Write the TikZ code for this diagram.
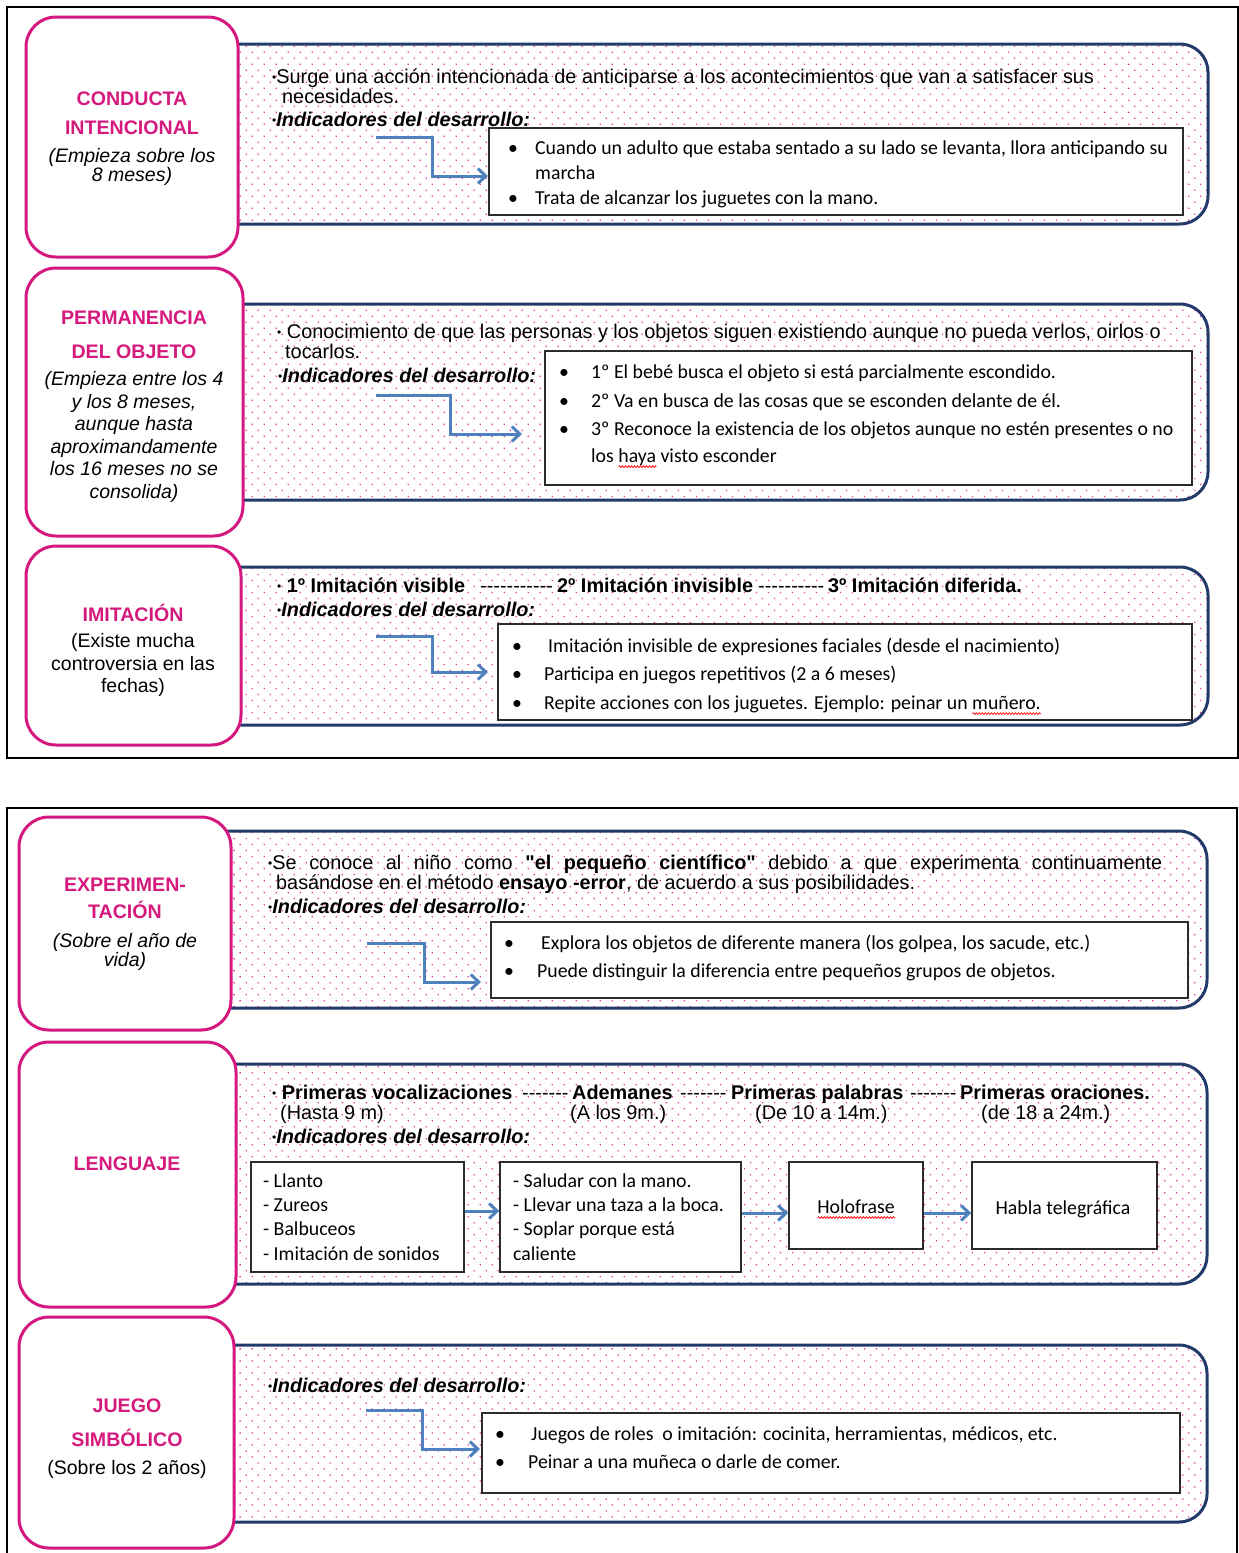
\documentclass[tikz,border=0pt]{standalone}
\usepackage{fontspec}
\setmainfont{Liberation Sans}[Ligatures=TeXOff]
\newfontfamily\calf{Carlito}[Ligatures=TeXOff]
\usetikzlibrary{patterns.meta,arrows.meta,decorations.pathmorphing}

\definecolor{titlepink}{HTML}{D5197D}
\definecolor{edgepink}{HTML}{D4187F}
\definecolor{dotpink}{HTML}{E2399A}
\definecolor{navy}{HTML}{213A69}
\definecolor{flowblue}{HTML}{4F81BD}
\definecolor{boxedge}{HTML}{2B2B2B}

\newcommand\panelfont{\fontsize{19.85pt}{20pt}\selectfont}
\newcommand\listfont{\calf\fontsize{19.8pt}{25pt}\selectfont}
\newcommand\dotb{\raisebox{1.5pt}{\fontsize{12pt}{12pt}\selectfont\textbullet}}
\newcommand\listb[1][27pt]{\makebox[#1][l]{\textbullet}}
\newcommand\ind{\dotb\textbf{\textit{Indicadores del desarrollo:}}}
% red wavy underline of a word flagged by the spell checker
\newsavebox\spellbox
\newcommand\spellmark[1]{\sbox\spellbox{#1}\rlap{\raisebox{-4.5pt}{\tikz[x=1pt,y=1pt,baseline=0pt]
  \draw[red, line width=0.7pt, decoration={zigzag, segment length=3pt, amplitude=0.9pt}, decorate]
  (0,0) -- (\the\wd\spellbox,0);}}#1}

\begin{document}
\begin{tikzpicture}[x=1pt, y=-1pt,
  frame/.style={draw=black, line width=1.8pt},
  pinkbox/.style={draw=edgepink, line width=3pt, rounded corners=30pt, fill=white, inner sep=0pt},
  panel/.style={draw=navy, line width=3pt, rounded corners=28pt,
    pattern={Dots[distance=8.49pt, angle=45, radius=0.9pt]}, pattern color=dotpink, inner sep=0pt},
  listbox/.style={draw=boxedge, line width=1.4pt, fill=white, inner sep=0pt},
  ptext/.style={anchor=mid west, inner sep=0pt, yshift=-4.5pt, font=\panelfont},
  ltext/.style={anchor=mid west, inner sep=0pt, yshift=-4.5pt, font=\listfont},
  ctext/.style={inner sep=0pt, yshift=-3pt, font=\listfont},
  head/.style={align=center, inner sep=0pt, text=titlepink,
    font=\bfseries\fontsize{19.6pt}{29pt}\selectfont},
  note/.style={align=center, inner sep=0pt, font=\fontsize{19.5pt}{19pt}\selectfont},
  flow/.style={draw=flowblue, line width=3pt,
    -{Straight Barb[length=8pt, width=15pt]}}
]
\useasboundingbox (0,0) rectangle (1239,1553);

% ---------- outer frames ----------
\node[frame, minimum width=1231pt, minimum height=751pt, inner sep=0pt] (fr1) at (622.5,382.5) {};
\node[frame, minimum width=1230pt, minimum height=752pt, inner sep=0pt] (fr2) at (622,1184) {};

% ---------- 1: conducta intencional ----------
\node[panel, minimum width=1008pt, minimum height=180pt] (p1) at (704,134) {};
\node[pinkbox, minimum width=212pt, minimum height=240pt] (k1) at (132,137) {};
\node[head] (h1) at (132,113) {CONDUCTA\\INTENCIONAL};
\node[note, font=\itshape\fontsize{19.5pt}{19pt}\selectfont] (n1) at (132,167) {(Empieza sobre los\\8 meses)};
\node[ptext] (s1a) at (272,76) {\dotb Surge una acción intencionada de anticiparse a los acontecimientos que van a satisfacer sus};
\node[ptext] (s1b) at (282,96) {necesidades.};
\node[ptext] (s1c) at (272,119) {\ind};
\node[listbox, minimum width=694pt, minimum height=87pt] (b1) at (836,171.5) {};
\node[ltext] (s1d) at (508,147) {\listb Cuando un adulto que estaba sentado a su lado se levanta, llora anticipando su};
\node[ltext] (s1e) at (535,172) {marcha};
\node[ltext] (s1f) at (508,197) {\listb Trata de alcanzar los juguetes con la mano.};
\coordinate (a1s) at (376,137);
\coordinate (a1e) at (488,176);
\draw[flow] (a1s) -- (432,137) |- (a1e);

% ---------- 2: permanencia del objeto ----------
\node[panel, minimum width=1008pt, minimum height=196pt] (p2) at (704,402) {};
\node[pinkbox, minimum width=217pt, minimum height=268pt] (k2) at (134.5,402) {};
\node[head, font=\bfseries\fontsize{19.6pt}{34pt}\selectfont] (h2) at (134,335) {PERMANENCIA\\DEL OBJETO};
\node[note, font=\itshape\fontsize{19.5pt}{22.6pt}\selectfont] (n2) at (134,437)
  {(Empieza entre los 4\\y los 8 meses,\\aunque hasta\\aproximandamente\\los 16 meses no se\\consolida)};
\node[ptext] (s2a) at (277,331) {\dotb\ Conocimiento de que las personas y los objetos siguen existiendo aunque no pueda verlos, oirlos o};
\node[ptext] (s2b) at (285,351) {tocarlos.};
\node[ptext] (s2c) at (278,375) {\ind};
\node[listbox, minimum width=647pt, minimum height=134pt] (b2) at (868.5,418) {};
\node[ltext] (s2d) at (559,371) {\listb[32pt]1º El bebé busca el objeto si está parcialmente escondido.};
\node[ltext] (s2e) at (559,400) {\listb[32pt]2º Va en busca de las cosas que se esconden delante de él.};
\node[ltext] (s2f) at (559,428) {\listb[32pt]3º Reconoce la existencia de los objetos aunque no estén presentes o no};
\node[ltext] (s2g) at (591,455) {los \spellmark{haya} visto esconder};
\coordinate (a2s) at (376,395);
\coordinate (a2e) at (522,434);
\draw[flow] (a2s) -- (450,395) |- (a2e);

% ---------- 3: imitación ----------
\node[panel, minimum width=1008pt, minimum height=158pt] (p3) at (704,646) {};
\node[pinkbox, minimum width=215pt, minimum height=199pt] (k3) at (133.5,645.5) {};
\node[head] (h3) at (133,613) {IMITACIÓN};
\node[note, font=\fontsize{19.5pt}{22.5pt}\selectfont] (n3) at (133,665) {(Existe mucha\\controversia en las\\fechas)};
\node[ptext] (s3a) at (277,585) {\dotb\ \textbf{1º Imitación visible}};
\node[ptext] (s3b) at (480,585) {-----------};
\node[ptext] (s3c) at (557,585) {\textbf{2º Imitación invisible}};
\node[ptext] (s3d) at (758,585) {----------};
\node[ptext] (s3e) at (828,585) {\textbf{3º Imitación diferida.}};
\node[ptext] (s3f) at (277,609) {\ind};
\node[listbox, minimum width=694pt, minimum height=96pt] (b3) at (845,672) {};
\node[ltext] (s3g) at (512,645) {\listb[36pt]Imitación invisible de expresiones faciales (desde el nacimiento)};
\node[ltext] (s3h) at (512,673) {\listb[32pt]Participa en juegos repetitivos (2 a 6 meses)};
\node[ltext] (s3i) at (512,702) {\listb[32pt]Repite acciones con los juguetes. Ejemplo: peinar un \spellmark{muñero.}};
\coordinate (a3s) at (376,636);
\coordinate (a3e) at (488,672);
\draw[flow] (a3s) -- (432,636) |- (a3e);

% ---------- 4: experimentación ----------
\node[panel, minimum width=1014pt, minimum height=177pt] (p4) at (700,919.5) {};
\node[pinkbox, minimum width=212pt, minimum height=213pt] (k4) at (125,923.5) {};
\node[head, font=\bfseries\fontsize{19.6pt}{27pt}\selectfont] (h4) at (125,898) {EXPERIMEN-\\TACIÓN};
\node[note, font=\itshape\fontsize{19.5pt}{19pt}\selectfont] (n4) at (125,952) {(Sobre el año de\\vida)};
\node[ptext] (s4a) at (268,862) {\makebox[894pt][s]{\dotb Se conoce al niño como \textbf{"el pequeño científico"} debido a que experimenta continuamente}};
\node[ptext] (s4b) at (276,882) {basándose en el método \textbf{ensayo -error}, de acuerdo a sus posibilidades.};
\node[ptext] (s4c) at (268,906) {\ind};
\node[listbox, minimum width=697pt, minimum height=76pt] (b4) at (839.5,960) {};
\node[ltext] (s4d) at (504,942) {\listb[37pt]Explora los objetos de diferente manera (los golpea, los sacude, etc.)};
\node[ltext] (s4e) at (504,970) {\listb[33pt]Puede distinguir la diferencia entre pequeños grupos de objetos.};
\coordinate (a4s) at (367,943);
\coordinate (a4e) at (481,982);
\draw[flow] (a4s) -- (424,943) |- (a4e);

% ---------- 5: lenguaje ----------
\node[panel, minimum width=1014pt, minimum height=220pt] (p5) at (700,1174) {};
\node[pinkbox, minimum width=217pt, minimum height=265pt] (k5) at (127.5,1174.5) {};
\node[head] (h5) at (127,1164) {LENGUAJE};
\node[ptext] (s5a) at (272,1092) {\dotb\ \textbf{Primeras vocalizaciones}};
\node[ptext] (s5b) at (522,1092) {-------};
\node[ptext] (s5c) at (572,1092) {\textbf{Ademanes}};
\node[ptext] (s5d) at (680,1092) {-------};
\node[ptext] (s5e) at (731,1092) {\textbf{Primeras palabras}};
\node[ptext] (s5f) at (910,1092) {-------};
\node[ptext] (s5g) at (960,1092) {\textbf{Primeras oraciones.}};
\node[ptext] (s5h) at (280,1112) {(Hasta 9 m)};
\node[ptext] (s5i) at (570,1112) {(A los 9m.)};
\node[ptext] (s5j) at (755,1112) {(De 10 a 14m.)};
\node[ptext] (s5k) at (981,1112) {(de 18 a 24m.)};
\node[ptext] (s5l) at (272,1136) {\ind};
\node[listbox, minimum width=213pt, minimum height=110pt] (la) at (357.5,1217) {};
\node[ltext] (la1) at (263,1180) {- Llanto};
\node[ltext] (la2) at (263,1204) {- Zureos};
\node[ltext] (la3) at (263,1228) {- Balbuceos};
\node[ltext] (la4) at (263,1253) {- Imitación de sonidos};
\node[listbox, minimum width=241pt, minimum height=110pt] (lb) at (620.5,1217) {};
\node[ltext] (lb1) at (513,1180) {- Saludar con la mano.};
\node[ltext] (lb2) at (513,1204) {- Llevar una taza a la boca.};
\node[ltext] (lb3) at (513,1228) {- Soplar porque está};
\node[ltext] (lb4) at (513,1253) {caliente};
\node[listbox, minimum width=134pt, minimum height=87pt] (lc) at (856,1205.5) {};
\node[ctext] (lc1) at (856,1206) {\spellmark{Holofrase}};
\node[listbox, minimum width=185pt, minimum height=87pt] (ld) at (1064.5,1205.5) {};
\node[ctext] (ld1) at (1063,1206) {Habla telegráfica};
\draw[flow] (la.east |- 0,1211) -- (lb.west |- 0,1211);
\draw[flow] (lb.east |- 0,1213) -- (lc.west |- 0,1213);
\draw[flow] (lc.east |- 0,1213) -- (ld.west |- 0,1213);

% ---------- 6: juego simbólico ----------
\node[panel, minimum width=1014pt, minimum height=177pt] (p6) at (700,1433.5) {};
\node[pinkbox, minimum width=215pt, minimum height=231pt] (k6) at (126.5,1432.5) {};
\node[head, font=\bfseries\fontsize{19.6pt}{34pt}\selectfont] (h6) at (127,1423) {JUEGO\\SIMBÓLICO};
\node[note] (n6) at (127,1469) {(Sobre los 2 años)};
\node[ptext] (s6a) at (268,1385) {\ind};
\node[listbox, minimum width=698pt, minimum height=80pt] (b6) at (831,1453) {};
\node[ltext] (s6b) at (495,1433) {\listb[36pt]Juegos de roles\ \ o imitación: cocinita, herramientas, médicos, etc.};
\node[ltext] (s6c) at (495,1461) {\listb[33pt]Peinar a una muñeca o darle de comer.};
\coordinate (a6s) at (366,1410);
\coordinate (a6e) at (480,1449);
\draw[flow] (a6s) -- (422,1410) |- (a6e);
\end{tikzpicture}
\end{document}
